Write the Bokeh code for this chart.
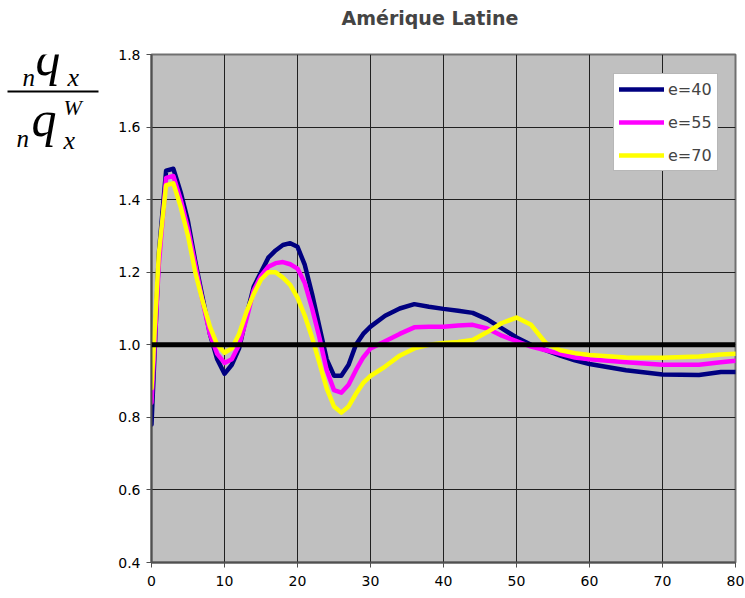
from bokeh.plotting import figure
from bokeh.layouts import row
from bokeh.models import (Range1d, FixedTicker, PrintfTickFormatter, Span,
                          Legend, LegendItem, Title)
from bokeh.core.properties import value
from bokeh.embed import file_html
from bokeh.resources import INLINE

# ---- data ----
ages = [0, 1, 2, 3, 4, 5, 6, 7, 8, 9, 10, 11, 12, 13, 14, 15, 16, 17, 18, 19, 20,
        21, 22, 23, 24, 25, 26, 27, 28, 29, 30, 32, 34, 36, 38, 40, 42, 44, 46, 48,
        50, 52, 54, 56, 58, 60, 65, 70, 75, 78, 80]

e40 = [0.78, 1.25, 1.48, 1.485, 1.42, 1.34, 1.23, 1.13, 1.03, 0.96, 0.92, 0.945, 0.99,
       1.08, 1.16, 1.20, 1.24, 1.26, 1.275, 1.28, 1.27, 1.22, 1.14, 1.05, 0.96, 0.915,
       0.915, 0.945, 1.00, 1.03, 1.05, 1.08, 1.10, 1.112, 1.105, 1.099, 1.094, 1.088,
       1.07, 1.045, 1.02, 1.0, 0.985, 0.97, 0.957, 0.947, 0.93, 0.918, 0.917, 0.925, 0.925]

e55 = [0.84, 1.22, 1.46, 1.465, 1.40, 1.32, 1.22, 1.12, 1.03, 0.975, 0.95, 0.96, 1.0,
       1.07, 1.15, 1.19, 1.215, 1.225, 1.228, 1.222, 1.21, 1.17, 1.10, 1.02, 0.93, 0.875,
       0.868, 0.89, 0.93, 0.965, 0.99, 1.01, 1.03, 1.048, 1.05, 1.05, 1.053, 1.055,
       1.045, 1.025, 1.01, 0.995, 0.985, 0.975, 0.965, 0.96, 0.952, 0.945, 0.945, 0.952, 0.956]

e70 = [0.88, 1.25, 1.44, 1.445, 1.38, 1.30, 1.20, 1.12, 1.05, 1.0, 0.978, 0.99, 1.03,
       1.09, 1.14, 1.18, 1.20, 1.20, 1.185, 1.165, 1.13, 1.08, 1.02, 0.95, 0.88, 0.83,
       0.813, 0.83, 0.865, 0.895, 0.914, 0.94, 0.97, 0.99, 1.0, 1.005, 1.008, 1.013,
       1.035, 1.06, 1.075, 1.055, 1.005, 0.985, 0.977, 0.972, 0.965, 0.964, 0.968, 0.973, 0.975]

series_names = ["e=40", "e=55", "e=70"]
series_colors = ["#000080", "#FF00FF", "#FFFF00"]
x_ticks = [0, 10, 20, 30, 40, 50, 60, 70, 80]
y_ticks = [0.4, 0.6, 0.8, 1.0, 1.2, 1.4, 1.6, 1.8]
reference_level = 1.0
title_text = "Amérique Latine"

FONT = "DejaVu Sans"
LEFT_W = 110
H = 598
TOP = 54
BOTTOM = 36

# ---------- left strip carrying the y-axis fraction label ----------
lf = figure(width=LEFT_W, height=H, output_backend="svg", toolbar_location=None,
            x_range=Range1d(0, LEFT_W), y_range=Range1d(H - BOTTOM, TOP),
            min_border_left=0, min_border_right=0, min_border_top=TOP,
            min_border_bottom=BOTTOM, outline_line_color=None)
lf.axis.visible = False
lf.grid.visible = False

def lab(px, py, txt, size):
    lf.text(x=[px], y=[py], text=[txt], text_align="left",
            text_baseline="alphabetic", text_font=value("Liberation Serif"),
            text_font_style="italic", text_font_size=size, text_color="black")

lab(22, 77, "n", "25px")
lab(35, 57, "q", "50px")
lab(67, 77, "x", "26px")
lab(16, 138, "n", "25px")
lab(31, 118, "q", "50px")
lab(63, 140, "x", "26px")
lab(63, 107, "W", "22px")
lf.segment(x0=[7], y0=[91], x1=[98], y1=[91], line_color="black", line_width=2)

# ---------- main chart ----------
p = figure(width=745 - LEFT_W, height=H, output_backend="svg", toolbar_location=None,
           x_range=Range1d(0, 80), y_range=Range1d(0.4, 1.8),
           min_border_left=151 - LEFT_W, min_border_right=10, min_border_top=TOP,
           min_border_bottom=BOTTOM)
p.border_fill_color = "white"
p.background_fill_color = "#C0C0C0"
p.outline_line_color = "#707070"
p.outline_line_width = 2

# spacer between frame and title
p.add_layout(Title(text=" ", text_font_size="14px", standoff=8), "above")

p.title.text = title_text
p.title.align = "left"
p.title.offset = 190
p.title.text_font = FONT
p.title.text_font_style = "bold"
p.title.text_font_size = "19px"
p.title.standoff = 0

p.xgrid.ticker = FixedTicker(ticks=x_ticks)
p.ygrid.ticker = FixedTicker(ticks=y_ticks)
for g in (p.xgrid[0], p.ygrid[0]):
    g.grid_line_color = "#202020"
    g.grid_line_width = 1
    g.grid_line_alpha = 1.0

for ax in (p.xaxis[0], p.yaxis[0]):
    ax.axis_line_color = "#505050"
    ax.axis_line_width = 2
    ax.major_tick_line_color = "#505050"
    ax.major_tick_out = 5
    ax.major_tick_in = 0
    ax.minor_tick_line_color = None
    ax.major_label_text_font = FONT
    ax.major_label_text_font_size = "14px"
    ax.major_label_text_color = "black"

p.xaxis[0].ticker = FixedTicker(ticks=x_ticks)
p.xaxis[0].major_label_standoff = 8
p.yaxis[0].ticker = FixedTicker(ticks=y_ticks)
p.yaxis[0].formatter = PrintfTickFormatter(format="%.1f")
p.yaxis[0].major_label_standoff = 6

renderers = []
for vals, col in zip([e40, e55, e70], series_colors):
    r = p.line(ages, vals, line_color=col, line_width=4.5, line_join="round",
               line_cap="round")
    renderers.append(r)

p.add_layout(Span(location=reference_level, dimension="width", line_color="black",
                  line_width=5))

legend = Legend(items=[LegendItem(label=n, renderers=[r])
                       for n, r in zip(series_names, renderers)],
                location=(462, 391), orientation="vertical",
                background_fill_color="white", background_fill_alpha=1.0,
                border_line_color="#707070", border_line_width=1.5,
                glyph_width=45, glyph_height=20, label_height=20, label_width=40,
                spacing=13, padding=5, margin=0, label_standoff=4,
                label_text_font=FONT, label_text_font_size="16px")
p.add_layout(legend)

layout = row(lf, p, spacing=0)
open("out.html", "w").write(file_html(layout, INLINE))
